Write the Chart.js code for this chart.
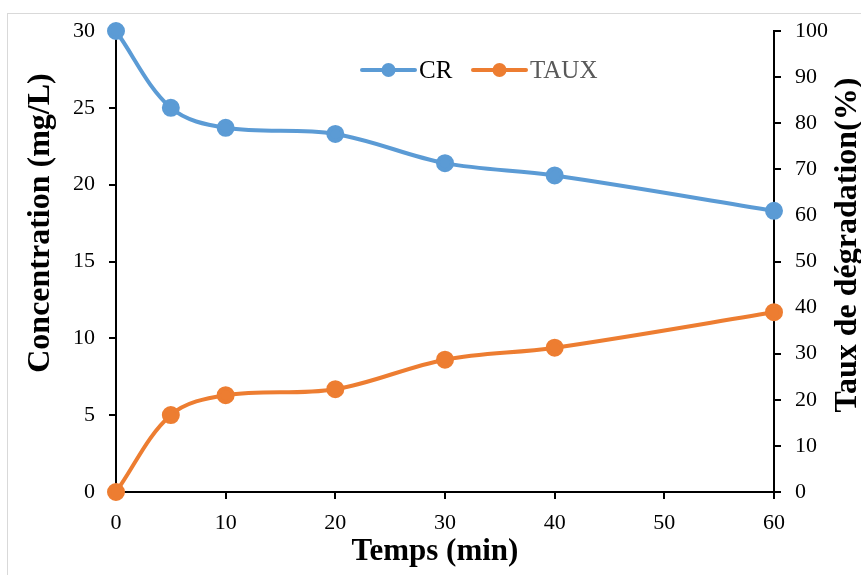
<!DOCTYPE html>
<html>
<head>
<meta charset="utf-8">
<script src="https://cdn.jsdelivr.net/npm/chart.js@4/dist/chart.umd.min.js"></script>
<style>
  html, body { margin: 0; padding: 0; background: #fff; }
  #wrap { width: 861px; height: 575px; }
</style>
</head>
<body>
<div id="wrap"><canvas id="myChart" width="861" height="575"></canvas></div>
<script>
// sampling times (min)
const temps = [0, 5, 10, 20, 30, 40, 60];
// CR concentration (mg/L) - left axis
const concentration = [30, 25, 23.7, 23.3, 21.4, 20.6, 18.3];
// degradation rate (%) - right axis
const taux = [0, 16.7, 21.0, 22.3, 28.7, 31.3, 39.0];

const blue = '#5B9BD5';
const orange = '#ED7D31';
const serif = "'Liberation Serif', 'Times New Roman', serif";

const toPoints = (ys) => temps.map((t, i) => ({ x: t, y: ys[i] }));

// light frame around the whole figure
const frame = {
    id: 'frame',
    beforeDraw(chart) {
        const ctx = chart.ctx;
        ctx.save();
        ctx.fillStyle = '#fff';
        ctx.fillRect(0, 0, chart.width, chart.height);
        ctx.strokeStyle = '#d9d9d9';
        ctx.lineWidth = 1;
        ctx.strokeRect(7.5, 13.5, chart.width + 20, chart.height + 20);
        ctx.restore();
    }
};

// axis titles sit a bit off-centre, so they are drawn by hand
function drawTitle(ctx, text, x, y, size, rotate) {
    ctx.save();
    ctx.fillStyle = '#000';
    ctx.font = 'bold ' + size + 'px ' + serif;
    ctx.textAlign = 'center';
    ctx.textBaseline = 'middle';
    ctx.translate(x, y);
    if (rotate) ctx.rotate(-Math.PI / 2);
    ctx.fillText(text, 0, 0);
    ctx.restore();
}

const axisTitles = {
    id: 'axisTitles',
    afterDraw(chart) {
        const ctx = chart.ctx;
        drawTitle(ctx, 'Temps (min)', 435, 552, 31, false);
        drawTitle(ctx, 'Concentration (mg/L)', 41, 223, 32, true);
        drawTitle(ctx, 'Taux de dégradation(%)', 848, 245, 32, true);
    }
};

// legend inside the plot: line + marker, then label
const inlineLegend = {
    id: 'inlineLegend',
    afterDraw(chart) {
        const ctx = chart.ctx;
        const y = 70;
        const items = [
            { x: 362, ds: chart.data.datasets[0], color: '#000' },
            { x: 473, ds: chart.data.datasets[1], color: '#595959' }
        ];
        ctx.save();
        ctx.font = '25px ' + serif;
        ctx.textBaseline = 'middle';
        items.forEach(it => {
            ctx.strokeStyle = it.ds.borderColor;
            ctx.lineWidth = 4;
            ctx.lineCap = 'round';
            ctx.beginPath();
            ctx.moveTo(it.x, y);
            ctx.lineTo(it.x + 53, y);
            ctx.stroke();
            ctx.fillStyle = it.ds.borderColor;
            ctx.beginPath();
            ctx.arc(it.x + 26.5, y, 7, 0, Math.PI * 2);
            ctx.fill();
            ctx.fillStyle = it.color;
            ctx.fillText(it.ds.label, it.x + 57, y + 1);
        });
        ctx.restore();
    }
};

const tickFont = { family: serif, size: 22 };

new Chart(document.getElementById('myChart'), {
    type: 'line',
    data: {
        datasets: [{
            label: 'CR',
            data: toPoints(concentration),
            yAxisID: 'y',
            borderColor: blue,
            backgroundColor: blue,
            borderWidth: 4,
            pointRadius: 7,
            pointHoverRadius: 7,
            tension: 0.35,
            clip: false
        }, {
            label: 'TAUX',
            data: toPoints(taux),
            yAxisID: 'y1',
            borderColor: orange,
            backgroundColor: orange,
            borderWidth: 4,
            pointRadius: 7,
            pointHoverRadius: 7,
            tension: 0.35,
            clip: false
        }]
    },
    options: {
        responsive: false,
        animation: false,
        layout: { padding: { top: 31 } },
        plugins: {
            legend: { display: false },
            tooltip: { enabled: false }
        },
        scales: {
            x: {
                type: 'linear',
                min: 0,
                max: 60,
                afterFit: (s) => { s.height = 83; },
                border: { color: '#000', width: 2 },
                grid: { drawOnChartArea: false, color: '#000', lineWidth: 2, tickLength: 7 },
                ticks: { stepSize: 10, color: '#000', font: tickFont, padding: 11 }
            },
            y: {
                position: 'left',
                min: 0,
                max: 30,
                afterFit: (s) => { s.width = 116; },
                border: { color: '#000', width: 2 },
                grid: { drawOnChartArea: false, color: '#000', lineWidth: 2, tickLength: 7 },
                ticks: { stepSize: 5, color: '#000', font: tickFont, padding: 14 }
            },
            y1: {
                position: 'right',
                min: 0,
                max: 100,
                afterFit: (s) => { s.width = 87; },
                border: { color: '#000', width: 2 },
                grid: { drawOnChartArea: false, color: '#000', lineWidth: 2, tickLength: 7 },
                ticks: { stepSize: 10, color: '#000', font: tickFont, padding: 14 }
            }
        }
    },
    plugins: [frame, axisTitles, inlineLegend]
});
</script>
</body>
</html>
